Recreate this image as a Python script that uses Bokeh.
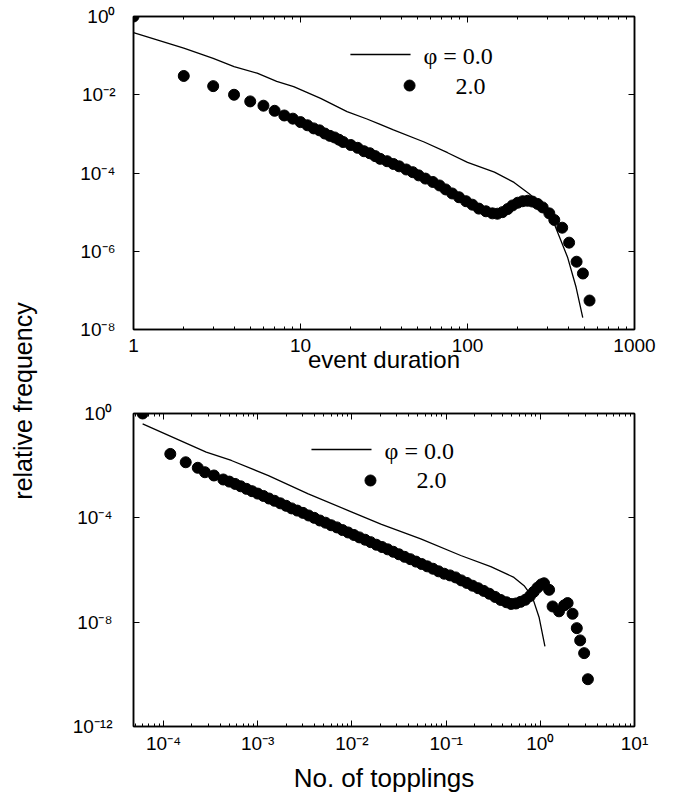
import math
from bokeh.plotting import figure
from bokeh.models import Range1d, LogAxis, FixedTicker, Label, CustomJSTickFormatter
from bokeh.layouts import row, column
from bokeh.embed import file_html
from bokeh.resources import INLINE

# ---------------- top panel: event duration ----------------
dur_phi0_x = [1, 2, 3, 4, 5.5, 7.2, 9.1, 13.2, 19, 25, 30, 36, 55, 76, 100, 145, 190,
              234, 261, 300, 331, 398, 447, 490]
dur_phi0_y = [0.389, 0.155, 0.085, 0.0525, 0.0355, 0.0219, 0.0162, 0.0081, 0.0037, 0.0024,
              0.00174, 0.00126, 6.2e-4, 3.3e-4, 1.86e-4, 1.05e-4, 5.75e-5,
              2.95e-5, 1.95e-5, 8.9e-6, 5.0e-6, 6.9e-7, 1.2e-7, 2.0e-8]

dur_phi2_x = [1, 2, 3, 4, 5, 6, 7, 8, 9,
              10, 11, 12, 13, 14, 15, 16, 17, 18,
              20, 22, 24, 26, 28, 30,
              33, 36, 39, 43, 47, 51, 56, 62, 68, 74,
              81, 89, 98, 107, 117, 129, 141, 151, 162, 174,
              186, 200, 214, 229, 245, 263, 282, 309, 331,
              369, 406, 450, 491, 538]
dur_phi2_y = [1.0, 0.0302, 0.0166, 0.0100, 0.00676, 0.00525, 0.00389, 0.00295, 0.00245,
              2.0e-3, 1.66e-3, 1.38e-3, 1.23e-3, 1.02e-3, 8.9e-4, 8.1e-4, 7.1e-4, 6.2e-4,
              5.2e-4, 4.4e-4, 3.6e-4, 3.2e-4, 2.7e-4, 2.3e-4,
              2.0e-4, 1.7e-4, 1.48e-4, 1.23e-4, 1.05e-4, 8.7e-5, 7.2e-5, 5.9e-5, 4.8e-5, 3.8e-5,
              3.0e-5, 2.4e-5, 1.9e-5, 1.55e-5, 1.23e-5, 1.05e-5, 9.3e-6, 9.1e-6, 1.0e-5, 1.2e-5,
              1.48e-5, 1.74e-5, 1.9e-5, 1.95e-5, 1.86e-5, 1.62e-5, 1.32e-5, 9.3e-6, 6.3e-6,
              4.0e-6, 1.66e-6, 5.4e-7, 2.7e-7, 5.5e-8]

# ---------------- bottom panel: number of topplings ----------------
tpl_phi0_x = [6.0e-5, 2.84e-4, 5.25e-4, 1.30e-3, 3.44e-3, 9.16e-3, 0.0206, 0.0538,
              0.143, 0.298, 0.525, 0.673, 0.824, 0.97, 1.12]
tpl_phi0_y = [0.398, 0.0331, 0.0158, 4.17e-3, 8.3e-4, 1.9e-4, 5.6e-5, 1.55e-5,
              3.6e-6, 1.35e-6, 5.2e-7, 2.5e-7, 9.1e-8, 1.55e-8, 1.17e-9]

tpl_phi2_x = [6.0e-5, 1.18e-4, 1.72e-4, 2.31e-4, 2.75e-4, 3.43e-4, 4.31e-4,
              5.0e-4, 5.75e-4, 6.6e-4, 7.6e-4, 8.7e-4, 1.0e-3, 1.15e-3, 1.32e-3, 1.51e-3, 1.74e-3,
              2.0e-3, 2.29e-3, 2.63e-3, 3.02e-3, 3.47e-3, 3.98e-3, 4.57e-3, 5.25e-3, 6.03e-3, 6.92e-3,
              7.94e-3, 9.12e-3, 0.0105, 0.0120, 0.0138, 0.0158, 0.0182, 0.0209, 0.0240, 0.0275,
              0.0316, 0.0363, 0.0417, 0.0479, 0.0550, 0.0631, 0.0724, 0.0832, 0.0955, 0.110,
              0.126, 0.145, 0.166, 0.191, 0.219, 0.251, 0.288, 0.331, 0.380, 0.437,
              0.490, 0.550, 0.617, 0.692, 0.776, 0.851, 0.933, 1.023, 1.096,
              1.24, 1.35, 1.58, 1.79, 1.95, 2.20, 2.44, 2.65, 2.92, 3.20]
tpl_phi2_y = [1.0, 0.0282, 0.0135, 8.3e-3, 5.6e-3, 4.2e-3, 2.95e-3,
              2.45e-3, 2.0e-3, 1.62e-3, 1.29e-3, 1.05e-3, 8.5e-4, 6.9e-4, 5.5e-4, 4.5e-4, 3.6e-4,
              2.9e-4, 2.3e-4, 1.9e-4, 1.55e-4, 1.23e-4, 1.0e-4, 7.9e-5, 6.5e-5, 5.2e-5, 4.3e-5,
              3.4e-5, 2.75e-5, 2.2e-5, 1.78e-5, 1.45e-5, 1.17e-5, 9.3e-6, 7.6e-6, 6.2e-6, 5.0e-6,
              4.0e-6, 3.2e-6, 2.6e-6, 2.1e-6, 1.7e-6, 1.38e-6, 1.12e-6, 8.9e-7, 7.2e-7, 6.2e-7,
              5.2e-7, 4.0e-7, 3.2e-7, 2.5e-7, 2.0e-7, 1.58e-7, 1.23e-7, 9.3e-8, 7.1e-8, 5.8e-8,
              5.0e-8, 5.2e-8, 6.0e-8, 7.2e-8, 1.0e-7, 1.45e-7, 2.1e-7, 2.8e-7, 3.1e-7,
              1.74e-7, 4.0e-8, 2.6e-8, 4.4e-8, 5.4e-8, 2.1e-8, 5.9e-9, 2.0e-9, 6.5e-10, 6.5e-11]

legend_labels = ["\u03c6 = 0.0", "2.0"]
x_title_top = "event duration"
x_title_bottom = "No. of topplings"
y_title = "relative frequency"

# axis ticks
top_xticks = [1, 10, 100, 1000]
top_xminor = [m * 10 ** e for e in range(0, 3) for m in range(2, 10)]
top_yticks = [1e-8, 1e-6, 1e-4, 1e-2, 1]
bot_xticks = [1e-4, 1e-3, 1e-2, 1e-1, 1, 10]
bot_xminor = [m * 10.0 ** e for e in range(-5, 1) for m in range(2, 10) if m * 10.0 ** e > 4.8e-5]
bot_yticks = [1e-12, 1e-8, 1e-4, 1]

POW_CODE = """
const sup = {"-": "\u207b", "0": "\u2070", "1": "\u00b9", "2": "\u00b2", "3": "\u00b3",
             "4": "\u2074", "5": "\u2075", "6": "\u2076", "7": "\u2077", "8": "\u2078", "9": "\u2079"};
const e = Math.round(Math.log10(tick));
return "10" + String(e).split("").map(c => sup[c]).join("");
"""
PLAIN_CODE = "return String(Math.round(tick));"
EMPTY_CODE = "return '';"

FONT = "Liberation Sans"


def style_axis(ax, ticks, minor, code, size, standoff):
    ax.ticker = FixedTicker(ticks=ticks, minor_ticks=minor)
    ax.formatter = CustomJSTickFormatter(code=code)
    ax.axis_line_color = "black"
    ax.axis_line_width = 1.5
    ax.major_tick_in = 6
    ax.major_tick_out = 0
    ax.minor_tick_in = 3
    ax.minor_tick_out = 0
    ax.major_tick_line_color = "black"
    ax.minor_tick_line_color = "black"
    ax.major_tick_line_width = 1
    ax.major_label_text_font = FONT
    ax.major_label_text_font_size = size
    ax.major_label_text_color = "black"
    ax.major_label_standoff = standoff


def panel(xr, yr, xt, xminor, xcode, yt, xtitle, title_size, btop, bbot, xstand, ystand, title_stand):
    p = figure(x_axis_type="log", y_axis_type="log",
               x_range=Range1d(*xr), y_range=Range1d(*yr),
               frame_width=501, frame_height=313,
               min_border_left=75, min_border_right=30,
               min_border_top=btop, min_border_bottom=bbot,
               output_backend="svg", toolbar_location=None)
    p.grid.visible = False
    p.outline_line_color = "black"
    p.outline_line_width = 1.5
    p.background_fill_color = "white"
    p.border_fill_color = "white"

    xa = p.xaxis[0]
    style_axis(xa, xt, xminor, xcode, "19px", xstand)
    xa.axis_label = xtitle
    xa.axis_label_text_font = FONT
    xa.axis_label_text_font_size = title_size
    xa.axis_label_text_font_style = "normal"
    xa.axis_label_text_color = "black"
    xa.axis_label_standoff = title_stand

    ya = p.yaxis[0]
    style_axis(ya, yt, [], POW_CODE, "19px", ystand)

    top_ax = LogAxis()
    style_axis(top_ax, xt, xminor, EMPTY_CODE, "1px", 0)
    p.add_layout(top_ax, "above")
    right_ax = LogAxis()
    style_axis(right_ax, yt, [], EMPTY_CODE, "1px", 0)
    p.add_layout(right_ax, "right")
    return p


# ---------------- top figure ----------------
p1 = panel((1, 1000), (1e-8, 1), top_xticks, top_xminor, PLAIN_CODE, top_yticks,
           x_title_top, "24px", 16, 51, 9, 18, -9)
p1.line(dur_phi0_x, dur_phi0_y, line_color="black", line_width=1.3)
p1.scatter(dur_phi2_x, dur_phi2_y, size=11, color="black", marker="circle")
# legend (positions in data space)
p1.line([19.9, 45.6], [0.107, 0.107], line_color="black", line_width=1.3)
p1.scatter([45], [0.0172], size=11, color="black", marker="circle")
p1.add_layout(Label(x=54.5, y=0.095, text=legend_labels[0], text_baseline="middle",
                    text_font="Liberation Serif", text_font_size="24px", text_color="black"))
p1.add_layout(Label(x=84.7, y=0.0167, text=legend_labels[1], text_baseline="middle",
                    text_font="Liberation Serif", text_font_size="24px", text_color="black"))

# ---------------- bottom figure ----------------
p2 = panel((4.8e-5, 10), (1e-12, 1), bot_xticks, bot_xminor, POW_CODE, bot_yticks,
           x_title_bottom, "26px", 33, 62, 6, 21, 6)
p2.line(tpl_phi0_x, tpl_phi0_y, line_color="black", line_width=1.3)
p2.scatter(tpl_phi2_x, tpl_phi2_y, size=11, color="black", marker="circle")
p2.line([3.72e-3, 0.01614], [0.0417, 0.0417], line_color="black", line_width=1.3)
p2.scatter([0.01574], [2.7e-3], size=11, color="black", marker="circle")
p2.add_layout(Label(x=0.0222, y=0.0381, text=legend_labels[0], text_baseline="middle",
                    text_font="Liberation Serif", text_font_size="24px", text_color="black"))
p2.add_layout(Label(x=0.0485, y=0.0027, text=legend_labels[1], text_baseline="middle",
                    text_font="Liberation Serif", text_font_size="24px", text_color="black"))

# ---------------- shared y title ----------------
H = 788
lab = figure(width=58, height=H, x_range=Range1d(0, 58), y_range=Range1d(0, H),
             x_axis_location=None, y_axis_location=None, min_border=0,
             output_backend="svg", toolbar_location=None)
lab.grid.visible = False
lab.outline_line_color = None
lab.add_layout(Label(x=22, y=H - 400.5, text=y_title, angle=math.pi / 2,
                     text_align="center", text_baseline="middle",
                     text_font=FONT, text_font_size="25px", text_color="black"))

layout = row(lab, column(p1, p2))
open("out.html", "w").write(file_html(layout, INLINE))
